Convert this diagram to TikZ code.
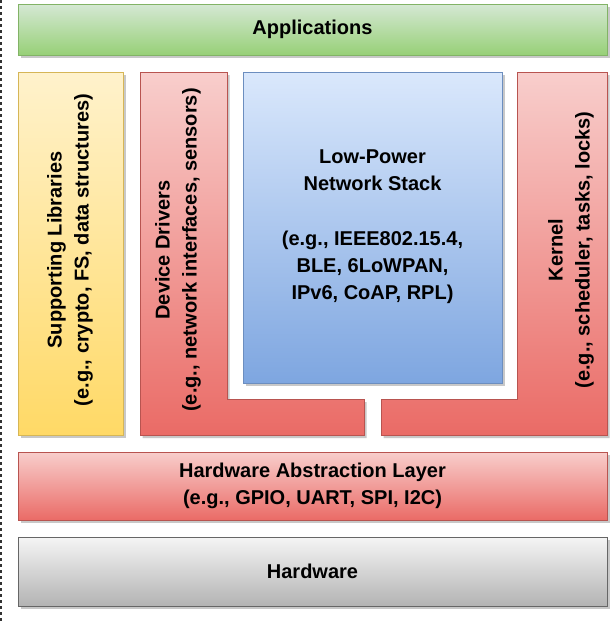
\documentclass[tikz,border=0pt]{standalone}
\usepackage{fontspec}
\setmainfont{Liberation Sans}
\usetikzlibrary{shadows}

\definecolor{appsTop}{HTML}{D5E8D4}
\definecolor{appsBot}{HTML}{97D077}
\definecolor{appsLine}{HTML}{82B366}
\definecolor{libsTop}{HTML}{FFF2CC}
\definecolor{libsBot}{HTML}{FFD966}
\definecolor{libsLine}{HTML}{D6B656}
\definecolor{redTop}{HTML}{F8CECC}
\definecolor{redBot}{HTML}{EA6B66}
\definecolor{redLine}{HTML}{B85450}
\definecolor{blueTop}{HTML}{DAE8FC}
\definecolor{blueBot}{HTML}{7EA6E0}
\definecolor{blueLine}{HTML}{6C8EBF}
\definecolor{hwTop}{HTML}{F5F5F5}
\definecolor{hwBot}{HTML}{B3B3B3}
\definecolor{hwLine}{HTML}{666666}

\tikzset{
  layer/.style={line width=0.8pt,
    drop shadow={shadow xshift=2.5pt, shadow yshift=-3pt, opacity=0.3, fill=black!70}},
  appsFill/.style={draw=appsLine, top color=appsTop, bottom color=appsBot},
  libsFill/.style={draw=libsLine, top color=libsTop, bottom color=libsBot},
  redFill/.style={draw=redLine, top color=redTop, bottom color=redBot},
  blueFill/.style={draw=blueLine, top color=blueTop, bottom color=blueBot},
  hwFill/.style={draw=hwLine, top color=hwTop, bottom color=hwBot},
  caption/.style={align=center, inner sep=0, font=\bfseries\fontsize{20}{27}\selectfont}
}

\begin{document}
\begin{tikzpicture}[x=1pt,y=-1pt]
  \useasboundingbox[fill=white] (0,0) rectangle (615,621);
  \draw[line width=1.5pt,dashed,black!80] (0.8,0) -- (0.8,621);

  % Top layer
  \draw[layer,appsFill] (18,4) rectangle (607,55);
  \node[caption] (apps) at (312.5,29.5) {Applications};

  % Middle columns
  \draw[layer,libsFill] (18,72) rectangle (123,435);
  \node[caption,rotate=90] (libs) at (70,250) {Supporting Libraries\\(e.g., crypto, FS, data structures)};

  \draw[layer,redFill] (140,72) -- (227,72) -- (227,399) -- (364,399) -- (364,435) -- (140,435) -- cycle;
  \node[caption,rotate=90] (drivers) at (178,250) {Device Drivers\\(e.g., network interfaces, sensors)};

  \draw[layer,blueFill] (243,72) rectangle (502,383);
  \node[caption] (stack) at (372.5,227) {Low-Power\\Network Stack\\[28pt](e.g., IEEE802.15.4,\\BLE, 6LoWPAN,\\IPv6, CoAP, RPL)};

  \draw[layer,redFill] (517,72) -- (607,72) -- (607,435) -- (381,435) -- (381,399) -- (517,399) -- cycle;
  \node[caption,rotate=90] (kernel) at (571,250) {Kernel\\(e.g., scheduler, tasks, locks)};

  % Bottom layers
  \draw[layer,redFill] (18,452) rectangle (607,520);
  \node[caption] (hal) at (312.5,486) {Hardware Abstraction Layer\\(e.g., GPIO, UART, SPI, I2C)};

  \draw[layer,hwFill] (18,537) rectangle (607,606);
  \node[caption] (hw) at (312.5,571.5) {Hardware};
\end{tikzpicture}
\end{document}
